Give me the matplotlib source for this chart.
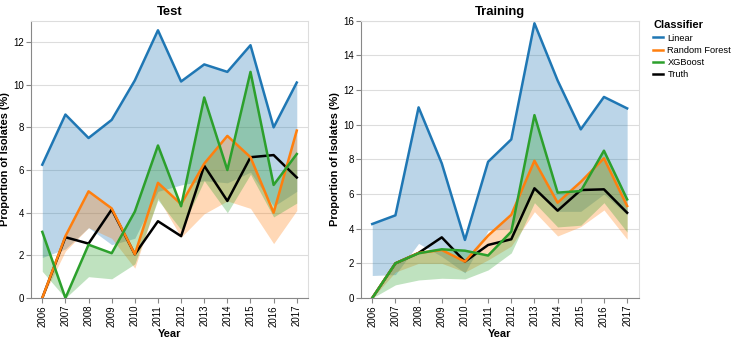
import numpy as np
import matplotlib.pyplot as plt
from matplotlib.lines import Line2D

plt.rcParams['font.family'] = ['Liberation Sans', 'DejaVu Sans']

years = list(range(2006, 2018))
classifiers = ["Linear", "Random Forest", "XGBoost", "Truth"]
colors = ["#1f77b4", "#ff7f0e", "#2ca02c", "#000000"]

# Test split: upper edge (line) and lower edge of each band
test_linear = [6.25, 8.6, 7.5, 8.35, 10.2, 12.55, 10.15, 10.95, 10.6, 11.85, 8.0, 10.1]
test_linear_lo = [1.9, 2.3, 3.3, 2.5, 2.8, 5.0, 5.3, 5.5, 5.4, 5.9, 4.3, 5.0]
test_rf = [0.0, 2.9, 5.0, 4.2, 2.05, 5.4, 4.4, 6.3, 7.6, 6.6, 4.0, 7.85]
test_rf_lo = [0.0, 2.2, 3.3, 2.8, 1.4, 4.7, 2.85, 3.95, 4.55, 4.2, 2.55, 4.1]
test_xgb = [3.1, 0.0, 2.5, 2.1, 4.05, 7.15, 4.3, 9.4, 6.0, 10.6, 5.3, 6.75]
test_xgb_lo = [1.25, 0.0, 1.0, 0.9, 1.6, 4.6, 3.2, 5.5, 4.0, 5.8, 3.8, 4.45]
test_truth = [0.0, 2.85, 2.55, 4.15, 2.05, 3.6, 2.9, 6.2, 4.55, 6.6, 6.7, 5.65]

# Training split
train_linear = [4.27, 4.77, 11.0, 7.77, 3.35, 7.86, 9.15, 15.85, 12.55, 9.73, 11.6, 10.94]
train_linear_lo = [1.3, 1.35, 3.15, 2.4, 1.45, 3.9, 4.0, 6.2, 5.0, 5.0, 6.0, 4.8]
train_rf = [0.0, 2.0, 2.6, 2.77, 2.1, 3.6, 4.8, 7.92, 5.5, 6.7, 8.06, 5.31]
train_rf_lo = [0.0, 1.5, 2.0, 2.0, 1.5, 2.2, 3.0, 4.98, 3.58, 4.12, 5.08, 3.39]
train_xgb = [0.0, 2.0, 2.58, 2.81, 2.73, 2.45, 3.83, 10.55, 6.08, 6.17, 8.5, 5.69]
train_xgb_lo = [0.0, 0.76, 1.04, 1.14, 1.1, 1.62, 2.6, 5.5, 4.1, 4.2, 5.5, 3.8]
train_truth = [0.0, 2.0, 2.6, 3.5, 2.1, 3.06, 3.39, 6.33, 5.04, 6.23, 6.27, 4.92]

panels = [
    ("Test", [test_linear, test_rf, test_xgb], [test_linear_lo, test_rf_lo, test_xgb_lo], test_truth, 13),
    ("Training", [train_linear, train_rf, train_xgb], [train_linear_lo, train_rf_lo, train_xgb_lo], train_truth, 16),
]

fig = plt.figure(figsize=(7.35, 3.38), dpi=100)
axes = [fig.add_axes([0.0418, 0.1183, 0.3777, 0.8205]),
        fig.add_axes([0.4907, 0.1183, 0.3783, 0.8205])]

for ax, (title, ups, los, truth, ymax) in zip(axes, panels):
    for up, lo, c in zip(ups, los, colors):
        ax.fill_between(years, lo, up, color=c, alpha=0.3, linewidth=0)
    ax.plot(years, truth, color="black", linewidth=1.8, zorder=3)
    for up, c in zip(ups, colors):
        ax.plot(years, up, color=c, linewidth=1.8, zorder=4)

    ax.set_xlim(2005.5, 2017.5)
    ax.set_ylim(0, ymax)
    ax.set_xticks(years)
    ax.set_xticklabels([str(y) for y in years], rotation=90, fontsize=7.0)
    ax.set_yticks(range(0, ymax + 1, 2))
    ax.tick_params(axis="y", labelsize=7.0, pad=1.5)
    ax.tick_params(axis="x", pad=1.5)
    ax.tick_params(colors="#888888", labelcolor="black", length=3.5, width=0.8)
    ax.grid(axis="y", color="#dddddd", linewidth=0.8)
    ax.set_axisbelow(True)
    for s in ["top", "right"]:
        ax.spines[s].set_color("#dddddd")
    for s in ["left", "bottom"]:
        ax.spines[s].set_color("#888888")
    ax.set_title(title, fontsize=9.4, fontweight="bold", pad=4)
    ax.set_xlabel("Year", fontsize=7.9, fontweight="bold", labelpad=2)
    ax.set_ylabel("Proportion of Isolates (%)", fontsize=7.9, fontweight="bold", labelpad=2)

handles = [Line2D([0], [0], color=c, linewidth=1.8) for c in colors]
leg = fig.legend(handles, classifiers, loc="upper left", bbox_to_anchor=(0.889, 0.94),
                 frameon=False, fontsize=6.7, title="Classifier", handlelength=1.0,
                 handletextpad=0.5, labelspacing=0.35, borderaxespad=0, borderpad=0)
leg.get_title().set_fontweight("bold")
leg.get_title().set_fontsize(7.9)
leg._legend_box.align = "left"

fig.savefig("out.png", dpi=100)
